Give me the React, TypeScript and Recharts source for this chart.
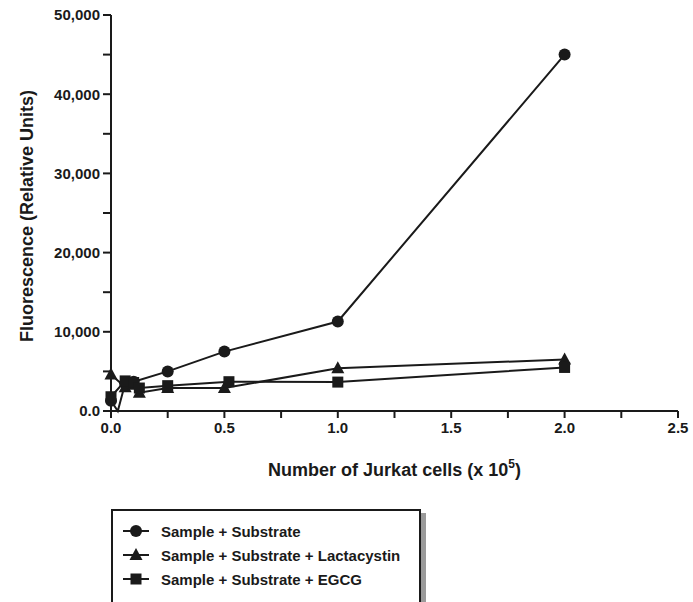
import React from 'react';
import { ScatterChart, Scatter, XAxis, YAxis } from 'recharts';

document.body.style.margin = '0';

const FONT = '"Liberation Sans", Arial, Helvetica, sans-serif';

// x = number of Jurkat cells (x 10^5), y = fluorescence (relative units)
const substrateX = [0, 0.03, 0.0625, 0.1, 0.25, 0.5, 1.0, 2.0];
const substrateY = [1300, 0, 3500, 3700, 5000, 7500, 11300, 45000];

const lactacystinX = [0, 0.0625, 0.1, 0.125, 0.25, 0.5, 1.0, 2.0];
const lactacystinY = [4600, 3000, 3300, 2300, 2900, 2900, 5400, 6500];

const egcgX = [0, 0.0625, 0.1, 0.125, 0.25, 0.52, 1.0, 2.0];
const egcgY = [1800, 3800, 3600, 2900, 3200, 3700, 3650, 5500];

const xTicks = [0, 0.25, 0.5, 0.75, 1.0, 1.25, 1.5, 1.75, 2.0, 2.25, 2.5];
const yTicks = [0, 5000, 10000, 15000, 20000, 25000, 30000, 35000, 40000, 45000, 50000];

const seriesNames = [
    'Sample + Substrate',
    'Sample + Substrate + Lactacystin',
    'Sample + Substrate + EGCG',
];

const toPoints = (xs: number[], ys: number[]) => xs.map((x, i) => ({ x, y: ys[i] }));

// the dip to zero in the first series is only a bend in the line, no marker drawn there
const CircleDot = (p: any) =>
    p.payload && p.payload.y === 0 ? <g /> : <circle cx={p.cx} cy={p.cy} r={6} fill="#1a1a1a" />;
const TriangleDot = (p: any) => (
    <polygon
        points={`${p.cx},${p.cy - 7} ${p.cx - 6.5},${p.cy + 5} ${p.cx + 6.5},${p.cy + 5}`}
        fill="#1a1a1a"
    />
);
const SquareDot = (p: any) => <rect x={p.cx - 5.5} y={p.cy - 5.5} width={11} height={11} fill="#1a1a1a" />;

const markers = [
    (cx: number, cy: number) => <circle cx={cx} cy={cy} r={6} fill="#1a1a1a" />,
    (cx: number, cy: number) => (
        <polygon points={`${cx},${cy - 7} ${cx - 6.5},${cy + 5} ${cx + 6.5},${cy + 5}`} fill="#1a1a1a" />
    ),
    (cx: number, cy: number) => <rect x={cx - 5.5} y={cy - 5.5} width={11} height={11} fill="#1a1a1a" />,
];

const tickStyle = { fill: '#1a1a1a', fontSize: 15, fontWeight: 700, fontFamily: FONT };
const lineStyle = { stroke: '#1a1a1a', strokeWidth: 2 };

const XTitle = ({ viewBox }: any) => {
    const cx = viewBox.x + viewBox.width / 2;
    return (
        <text x={cx} y={476} textAnchor="middle" fill="#1a1a1a" fontSize={18} fontWeight={700} fontFamily={FONT}>
            Number of Jurkat cells (x 10
            <tspan fontSize={12} dy={-8}>5</tspan>
            <tspan dy={8}>)</tspan>
        </text>
    );
};

const YTitle = ({ viewBox }: any) => {
    const cy = viewBox.y + viewBox.height / 2 + 3;
    return (
        <text
            x={33}
            y={cy}
            transform={`rotate(-90, 33, ${cy})`}
            textAnchor="middle"
            fill="#1a1a1a"
            fontSize={18}
            fontWeight={700}
            fontFamily={FONT}
        >
            Fluorescence (Relative Units)
        </text>
    );
};

const App: React.FC = () => {
    return (
        <div style={{ position: 'relative', width: 693, height: 602, background: '#fff', overflow: 'hidden' }}>
            <ScatterChart width={693} height={602} margin={{ top: 15, right: 15, left: 0, bottom: 130 }}>
                <XAxis
                    type="number"
                    dataKey="x"
                    domain={[0, 2.5]}
                    ticks={xTicks}
                    interval={0}
                    tickFormatter={(v: number) => (Math.round(v * 100) % 50 === 0 ? v.toFixed(1) : '')}
                    tick={tickStyle}
                    tickSize={7}
                    tickMargin={4}
                    axisLine={lineStyle}
                    tickLine={lineStyle}
                    height={61}
                    label={<XTitle />}
                />
                <XAxis
                    xAxisId="top"
                    orientation="top"
                    type="number"
                    domain={[0, 2.5]}
                    tick={false}
                    tickLine={false}
                    axisLine={lineStyle}
                    height={0}
                />
                <YAxis
                    type="number"
                    dataKey="y"
                    domain={[0, 50000]}
                    ticks={yTicks}
                    interval={0}
                    tickFormatter={(v: number) =>
                        v === 0 ? '0.0' : v % 10000 === 0 ? v.toLocaleString('en-US') : ''
                    }
                    tick={tickStyle}
                    tickSize={8}
                    tickMargin={3}
                    axisLine={lineStyle}
                    tickLine={lineStyle}
                    width={111}
                    label={<YTitle />}
                />
                <YAxis
                    yAxisId="right"
                    orientation="right"
                    type="number"
                    domain={[0, 50000]}
                    tick={false}
                    tickLine={false}
                    axisLine={lineStyle}
                    width={0}
                />
                <Scatter
                    name={seriesNames[0]}
                    data={toPoints(substrateX, substrateY)}
                    line={lineStyle}
                    shape={CircleDot}
                    isAnimationActive={false}
                />
                <Scatter
                    name={seriesNames[1]}
                    data={toPoints(lactacystinX, lactacystinY)}
                    line={lineStyle}
                    shape={TriangleDot}
                    isAnimationActive={false}
                />
                <Scatter
                    name={seriesNames[2]}
                    data={toPoints(egcgX, egcgY)}
                    line={lineStyle}
                    shape={SquareDot}
                    isAnimationActive={false}
                />
            </ScatterChart>
            <div
                style={{
                    position: 'absolute',
                    left: 420,
                    top: 513,
                    width: 6,
                    height: 100,
                    background: '#9a9a9a',
                }}
            />
            <div
                style={{
                    position: 'absolute',
                    left: 111,
                    top: 509,
                    width: 310,
                    height: 100,
                    borderTop: '2px solid #1a1a1a',
                    borderLeft: '2px solid #1a1a1a',
                    borderRight: '2px solid #1a1a1a',
                    background: '#fff',
                    boxSizing: 'border-box',
                }}
            >
                {seriesNames.map((name, i) => (
                    <div
                        key={name}
                        style={{
                            position: 'absolute',
                            left: 9,
                            top: 8 + i * 24,
                            height: 24,
                            display: 'flex',
                            alignItems: 'center',
                            fontFamily: FONT,
                            fontWeight: 700,
                            fontSize: 15,
                            color: '#1a1a1a',
                            whiteSpace: 'nowrap',
                        }}
                    >
                        <svg width={28} height={16} style={{ marginRight: 11 }}>
                            <line x1={1} y1={8} x2={27} y2={8} stroke="#1a1a1a" strokeWidth={2} />
                            {markers[i](14, 8)}
                        </svg>
                        {name}
                    </div>
                ))}
            </div>
        </div>
    );
};

export default App;
